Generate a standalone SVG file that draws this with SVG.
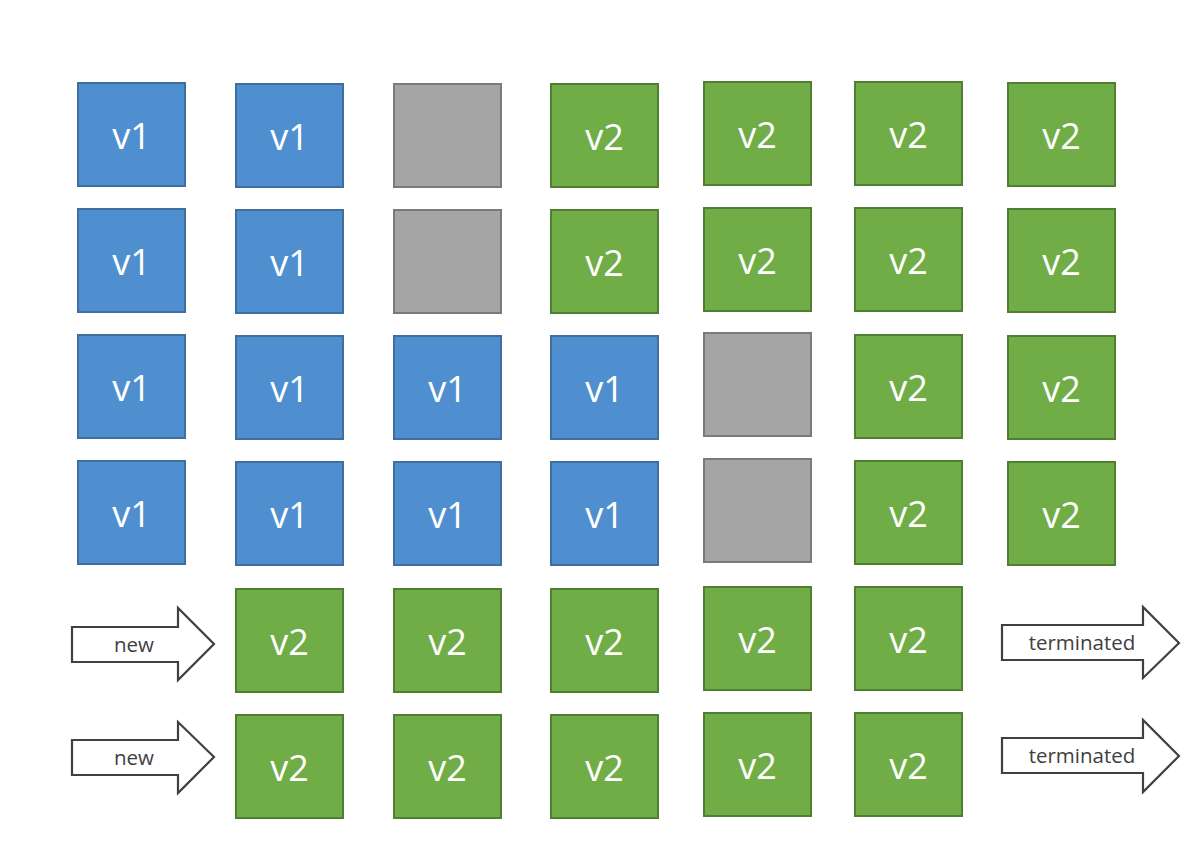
<svg xmlns="http://www.w3.org/2000/svg" width="1204" height="858" viewBox="0 0 1204 858">
<style>
.b rect{fill:#4F8FD0;stroke:#3F6F9F;stroke-width:2}
.g rect{fill:#70AD47;stroke:#507E32;stroke-width:2}
.x rect{fill:#A5A5A5;stroke:#7A7A7A;stroke-width:2}
.n text{font-family:"Open Sans","Liberation Sans",sans-serif;font-size:36px;fill:#fff;text-anchor:middle}
.a polygon{fill:#fff;stroke:#404040;stroke-width:2.2;stroke-linejoin:miter}
.a text{font-family:"Open Sans","Liberation Sans",sans-serif;font-size:20.5px;fill:#404040;text-anchor:middle}
</style>
<rect width="1204" height="858" fill="#fff"/>
<g id="r1c1" class="n b"><rect x="78" y="83" width="107" height="103"/><text x="131.5" y="149">v1</text></g>
<g id="r1c2" class="n b"><rect x="236" y="84" width="107" height="103"/><text x="289.5" y="150">v1</text></g>
<g id="r1c3" class="n x"><rect x="394" y="84" width="107" height="103"/></g>
<g id="r1c4" class="n g"><rect x="551" y="84" width="107" height="103"/><text x="604.5" y="150">v2</text></g>
<g id="r1c5" class="n g"><rect x="704" y="82" width="107" height="103"/><text x="757.5" y="148">v2</text></g>
<g id="r1c6" class="n g"><rect x="855" y="82" width="107" height="103"/><text x="908.5" y="148">v2</text></g>
<g id="r1c7" class="n g"><rect x="1008" y="83" width="107" height="103"/><text x="1061.5" y="149">v2</text></g>

<g id="r2c1" class="n b"><rect x="78" y="209" width="107" height="103"/><text x="131.5" y="275">v1</text></g>
<g id="r2c2" class="n b"><rect x="236" y="210" width="107" height="103"/><text x="289.5" y="276">v1</text></g>
<g id="r2c3" class="n x"><rect x="394" y="210" width="107" height="103"/></g>
<g id="r2c4" class="n g"><rect x="551" y="210" width="107" height="103"/><text x="604.5" y="276">v2</text></g>
<g id="r2c5" class="n g"><rect x="704" y="208" width="107" height="103"/><text x="757.5" y="274">v2</text></g>
<g id="r2c6" class="n g"><rect x="855" y="208" width="107" height="103"/><text x="908.5" y="274">v2</text></g>
<g id="r2c7" class="n g"><rect x="1008" y="209" width="107" height="103"/><text x="1061.5" y="275">v2</text></g>

<g id="r3c1" class="n b"><rect x="78" y="335" width="107" height="103"/><text x="131.5" y="401">v1</text></g>
<g id="r3c2" class="n b"><rect x="236" y="336" width="107" height="103"/><text x="289.5" y="402">v1</text></g>
<g id="r3c3" class="n b"><rect x="394" y="336" width="107" height="103"/><text x="447.5" y="402">v1</text></g>
<g id="r3c4" class="n b"><rect x="551" y="336" width="107" height="103"/><text x="604.5" y="402">v1</text></g>
<g id="r3c5" class="n x"><rect x="704" y="333" width="107" height="103"/></g>
<g id="r3c6" class="n g"><rect x="855" y="335" width="107" height="103"/><text x="908.5" y="401">v2</text></g>
<g id="r3c7" class="n g"><rect x="1008" y="336" width="107" height="103"/><text x="1061.5" y="402">v2</text></g>

<g id="r4c1" class="n b"><rect x="78" y="461" width="107" height="103"/><text x="131.5" y="527">v1</text></g>
<g id="r4c2" class="n b"><rect x="236" y="462" width="107" height="103"/><text x="289.5" y="528">v1</text></g>
<g id="r4c3" class="n b"><rect x="394" y="462" width="107" height="103"/><text x="447.5" y="528">v1</text></g>
<g id="r4c4" class="n b"><rect x="551" y="462" width="107" height="103"/><text x="604.5" y="528">v1</text></g>
<g id="r4c5" class="n x"><rect x="704" y="459" width="107" height="103"/></g>
<g id="r4c6" class="n g"><rect x="855" y="461" width="107" height="103"/><text x="908.5" y="527">v2</text></g>
<g id="r4c7" class="n g"><rect x="1008" y="462" width="107" height="103"/><text x="1061.5" y="528">v2</text></g>

<g id="r5c2" class="n g"><rect x="236" y="589" width="107" height="103"/><text x="289.5" y="655">v2</text></g>
<g id="r5c3" class="n g"><rect x="394" y="589" width="107" height="103"/><text x="447.5" y="655">v2</text></g>
<g id="r5c4" class="n g"><rect x="551" y="589" width="107" height="103"/><text x="604.5" y="655">v2</text></g>
<g id="r5c5" class="n g"><rect x="704" y="587" width="107" height="103"/><text x="757.5" y="653">v2</text></g>
<g id="r5c6" class="n g"><rect x="855" y="587" width="107" height="103"/><text x="908.5" y="653">v2</text></g>

<g id="r6c2" class="n g"><rect x="236" y="715" width="107" height="103"/><text x="289.5" y="781">v2</text></g>
<g id="r6c3" class="n g"><rect x="394" y="715" width="107" height="103"/><text x="447.5" y="781">v2</text></g>
<g id="r6c4" class="n g"><rect x="551" y="715" width="107" height="103"/><text x="604.5" y="781">v2</text></g>
<g id="r6c5" class="n g"><rect x="704" y="713" width="107" height="103"/><text x="757.5" y="779">v2</text></g>
<g id="r6c6" class="n g"><rect x="855" y="713" width="107" height="103"/><text x="908.5" y="779">v2</text></g>

<g id="connectors">
<g id="new1" class="a"><polygon points="72,627 178,627 178,608 214,644 178,680 178,662 72,662"/><text x="134" y="652">new</text></g>
<g id="new2" class="a"><polygon points="72,740 178,740 178,722 214,757 178,793 178,775 72,775"/><text x="134" y="765">new</text></g>
<g id="term1" class="a"><polygon points="1002,625 1143,625 1143,607 1179,643 1143,678 1143,660 1002,660"/><text x="1082" y="650">terminated</text></g>
<g id="term2" class="a"><polygon points="1002,738 1143,738 1143,720 1179,756 1143,792 1143,773 1002,773"/><text x="1082" y="763">terminated</text></g>
</g>
</svg>
